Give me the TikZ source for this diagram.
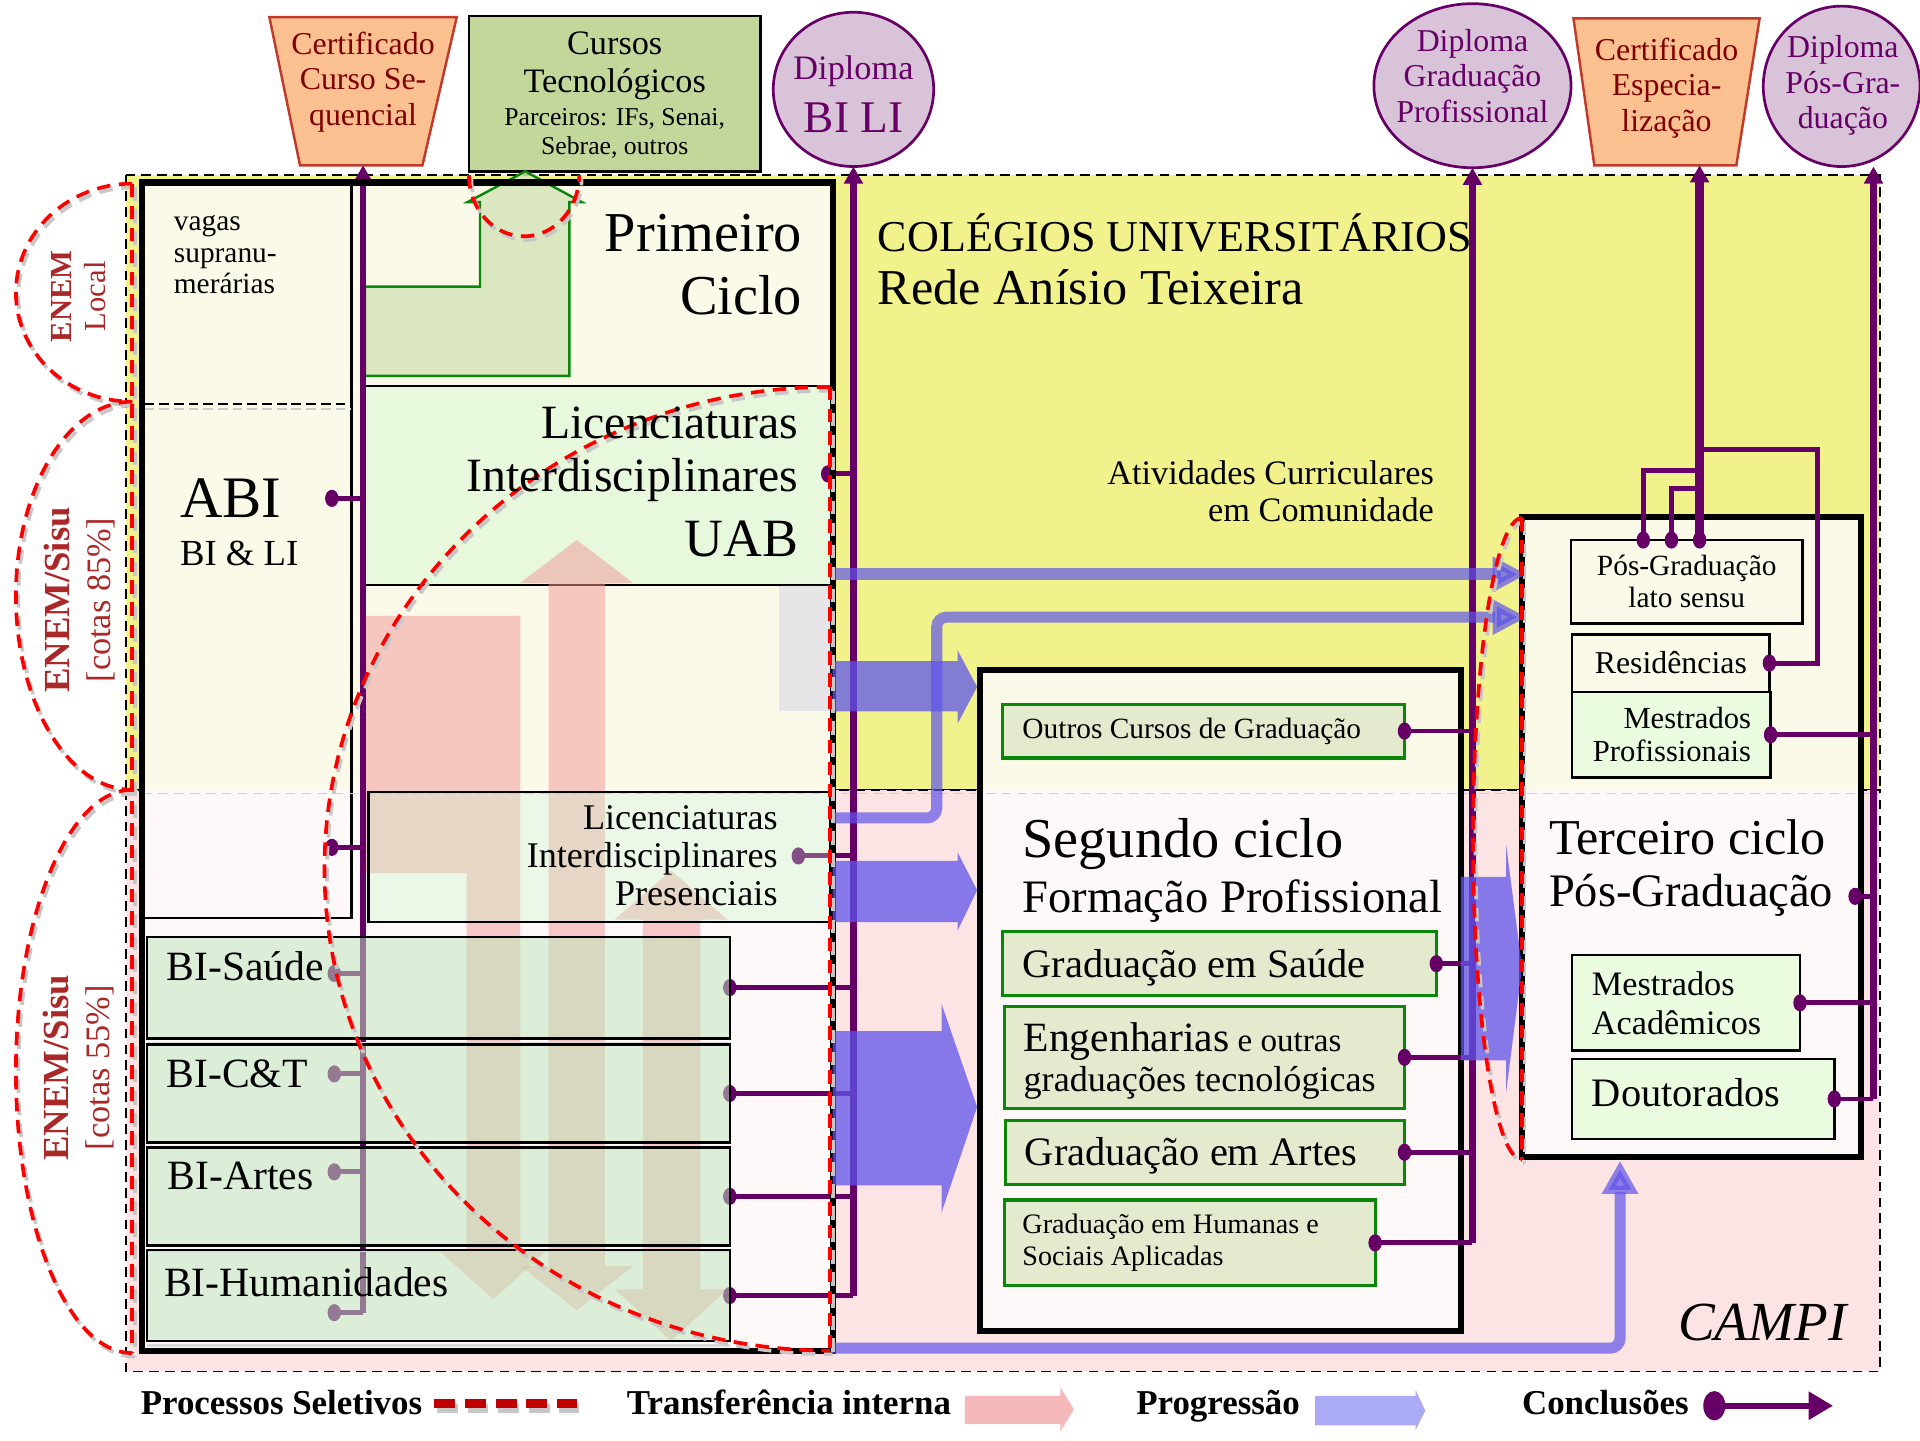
\documentclass[tikz,border=0pt]{standalone}
\usepackage{fontspec}
\setmainfont{Liberation Serif}
\usetikzlibrary{arrows.meta,shapes.geometric}
\newcommand\fsz[2]{\fontsize{#1}{#2}\selectfont}
\definecolor{yel}{RGB}{242,242,140}
\definecolor{pnk}{RGB}{253,228,228}
\definecolor{crm}{RGB}{251,250,232}
\definecolor{wpk}{RGB}{254,249,248}
\definecolor{uabg}{RGB}{232,248,220}
\definecolor{presg}{RGB}{195,246,198}
\definecolor{big}{RGB}{190,230,188}
\definecolor{gfill}{RGB}{228,234,206}
\definecolor{gline}{RGB}{10,135,10}
\definecolor{cursosf}{RGB}{196,215,155}
\definecolor{certf}{RGB}{250,192,144}
\definecolor{certl}{RGB}{192,57,43}
\definecolor{certt}{RGB}{127,0,0}
\definecolor{dipf}{RGB}{217,195,217}
\definecolor{purp}{RGB}{102,0,102}
\definecolor{prog}{RGB}{95,85,235}
\definecolor{trans}{RGB}{240,150,150}
\definecolor{enem}{RGB}{170,40,40}
\definecolor{lgr}{RGB}{234,251,224}
\definecolor{lsel}{RGB}{192,0,0}
\definecolor{lshape}{RGB}{214,228,186}
\definecolor{lgpink}{RGB}{245,185,185}
\definecolor{lgblue}{RGB}{170,170,245}
\begin{document}
\begin{tikzpicture}[x=1pt,y=-1pt,
 tx/.style={inner sep=0pt,outer sep=0pt},
 region/.style={draw=black,line width=1.5pt,dash pattern=on 8pt off 5pt},
 cycbox/.style={draw=black,line width=5pt},
 thinbox/.style={draw=black,line width=1.8pt},
 gbox/.style={draw=gline,fill=gfill,line width=2.5pt,inner xsep=16pt,inner ysep=0pt,align=flush left,outer sep=0pt},
 tbox/.style={draw=black,line width=2pt,inner ysep=0pt,outer sep=0pt},
 bibox/.style={draw=black,line width=2pt,fill=big,fill opacity=0.53},
 dipl/.style={ellipse,draw=purp,line width=2.2pt,fill=dipf,inner sep=0pt,outer sep=0pt},
 cert/.style={draw=certl,line width=2pt,fill=certf},
 ctxt/.style={tx,align=center,text=certt,font=\fsz{26}{29}},
 dtxt/.style={tx,align=center,text=purp,font=\fsz{26}{29}},
 pmain/.style={draw=purp,line width=5.5pt,-{Triangle[width=15pt,length=14pt]}},
 pline/.style={draw=purp,line width=4pt},
 trarrow/.style={fill=trans,fill opacity=0.5},
 pgarrow/.style={fill=prog,fill opacity=0.75},
 pgline/.style={draw=prog,opacity=0.7,line width=10pt},
 sel/.style={draw=red,line width=3pt,dash pattern=on 11pt off 7pt},
 selsh/.style={draw=black!22,line width=3pt,dash pattern=on 11pt off 7pt,shift={(2,3)}},
 enemt/.style={tx,rotate=90,align=center,text=enem},
 legt/.style={tx,anchor=base west,font=\bfseries\fsz{28.5}{30}},
]
\useasboundingbox (0,0) rectangle (1568,1176);
\fill[white] (0,0) rectangle (1568,1176);
% ---------- regions
\path[region,fill=yel] (103,143) rectangle (1535,645);
\path[region,fill=pnk] (103,645) rectangle (1535,1120);
% ---------- top nodes
\path[cert] (220,14) -- (373,14) -- (345,135) -- (245,135) -- cycle;
\node[tx,minimum width=153pt,minimum height=121pt] (certseq) at (296.5,74.5) {};
\node[ctxt] (certseqT) at (296.5,67) {Certificado\\Curso Se-\\quencial};
\node[draw=black,line width=2pt,fill=cursosf,minimum width=238pt,minimum height=127pt,inner sep=0pt,outer sep=0pt] (cursos) at (502,76.5) {};
\node[tx,align=center,font=\fsz{28}{31}] (cursosT1) at (502,54) {Cursos\\Tecnológicos};
\node[tx,align=center,font=\fsz{21}{23}] (cursosT2) at (502,109) {Parceiros: IFs, Senai,\\Sebrae, outros};
\node[dipl,minimum width=131pt,minimum height=126pt] (dbili) at (697,73) {};
\node[dtxt,font=\fsz{28}{30}] (dbiliT1) at (697,58) {Diploma};
\node[dtxt,font=\fsz{37}{40}] (dbiliT2) at (697,96) {BI LI};
\node[dipl,minimum width=161pt,minimum height=134pt] (dgrad) at (1202.5,70) {};
\node[dtxt] (dgradT) at (1202.5,62) {Diploma\\Graduação\\Profissional};
\path[cert] (1285,15) -- (1437,15) -- (1418,135) -- (1302,135) -- cycle;
\node[tx,minimum width=152pt,minimum height=120pt] (certesp) at (1361,75) {};
\node[ctxt] (certespT) at (1361,72) {Certificado\\Especia-\\lização};
\node[dipl,minimum width=128pt,minimum height=131pt] (dpos) at (1504,70.5) {};
\node[dtxt] (dposT) at (1505,70) {Diploma\\Pós-Gra-\\duação};
% ---------- first cycle fills
\fill[crm] (116,149) rectangle (680,645);
\fill[wpk] (116,645) rectangle (680,1103);
\draw[thinbox] (287,151) -- (287,750) -- (118,750);
\draw[black,line width=1.5pt,dash pattern=on 8pt off 4pt] (118,330) -- (287,330);
\draw[black!20,line width=1.5pt,dash pattern=on 8pt off 4pt] (118,334) -- (287,334);
\node[thinbox,fill=uabg,minimum width=384pt,minimum height=163pt,inner sep=0pt,outer sep=0pt] (uab) at (488,396.5) {};
\path[fill=lshape,fill opacity=0.85,draw=gline,line width=2pt] (298,307) -- (465,307) -- (465,165) -- (475,165) -- (429,140) -- (382,165) -- (392,165) -- (392,234) -- (298,234) -- cycle;
% ---------- second / third cycle fills
\fill[crm] (800,547) rectangle (1193,645);
\fill[wpk] (800,645) rectangle (1193,1087);
\fill[crm] (1243,422) rectangle (1520,645);
\fill[wpk] (1243,645) rectangle (1520,945);
\draw[black!18,line width=1.5pt,dash pattern=on 8pt off 5pt] (103,648) -- (1535,648);
% ---------- transfer arrows
\path[trarrow] (298,503) -- (425,503) -- (425,1022) -- (446,1022) -- (403,1061) -- (359,1022) -- (381,1022) -- (381,713) -- (298,713) -- cycle;
\path[trarrow] (471,441) -- (517,476) -- (494,476) -- (494,1034) -- (517,1034) -- (471,1070) -- (425,1034) -- (448,1034) -- (448,476) -- (425,476) -- cycle;
\path[trarrow] (548,711) -- (594,751) -- (572,751) -- (572,1053) -- (594,1053) -- (548,1095) -- (502,1053) -- (525,1053) -- (525,751) -- (502,751) -- cycle;
% ---------- invisible named boxes of first cycle
\node[tx,minimum width=377pt,minimum height=106pt] (pres) at (489.5,700) {};
\node[tx,minimum width=476pt,minimum height=83pt] (bis) at (358,806.5) {};
\node[tx,minimum width=476pt,minimum height=80pt] (bic) at (358,893) {};
\node[tx,minimum width=476pt,minimum height=80pt] (bia) at (358,977) {};
\node[tx,minimum width=476pt,minimum height=74pt] (bih) at (358,1058) {};
% ---------- conclusion lines of first cycle
\coordinate (cABI) at (271,407);
\coordinate (cLP) at (271,692);
\coordinate (cBIs) at (273,795);
\coordinate (cBIc) at (273,877);
\coordinate (cBIa) at (273,957);
\coordinate (cBIh) at (273,1072);
\coordinate (cUAB) at (676,387);
\coordinate (cPres) at (652,699);
\draw[pmain] (cBIh -| certseq.south) -- (certseq.south);
\foreach \c in {cABI,cLP,cBIs,cBIc,cBIa,cBIh}{
  \draw[pline] (\c) -- (\c -| certseq.south);
  \fill[purp] (\c) ellipse[x radius=5.5pt,y radius=7pt];
}
\draw[pmain] (bih.east -| dbili.south) -- (dbili.south);
\foreach \c in {cUAB,cPres,bis.east,bic.east,bia.east,bih.east}{
  \draw[pline] (\c) -- (\c -| dbili.south);
  \fill[purp] (\c) ellipse[x radius=5.5pt,y radius=7pt];
}
% ---------- semi-transparent boxes
\path[draw=black,line width=1.8pt,fill=presg,fill opacity=0.32] (pres.north west) rectangle (pres.south east);
\foreach \b in {bis,bic,bia,bih}{
  \draw[black!15,line width=2.5pt] ([yshift=-4pt]\b.south west) -- ([yshift=-4pt]\b.south east);
  \path[bibox] (\b.north west) rectangle (\b.south east);
}
% ---------- cycle borders
\draw[cycbox] (116,149) rectangle (680,1103);
\draw[cycbox] (800,547) rectangle (1193,1087);
\draw[cycbox] (1243,422) rectangle (1520,945);
% ---------- second cycle boxes
\node[gbox,minimum width=328pt,text width=296pt,minimum height=44pt,font=\fsz{24}{26}] (outros) at (983,597) {Outros Cursos de Graduação};
\node[gbox,minimum width=354pt,text width=322pt,minimum height=52pt,font=\fsz{33}{36}] (saude) at (996,787) {\raisebox{-3pt}[\height][\depth]{Graduação em Saúde}};
\node[gbox,minimum width=327pt,text width=295pt,minimum height=83pt,font=\fsz{34}{33}] (eng) at (983.5,863.5) {\raisebox{-3pt}[\height][\depth]{Engenharias{\fsz{27}{33} e outras}}\\\raisebox{-3pt}[\height][\depth]{\fsz{29.5}{33}graduações tecnológicas}};
\node[gbox,minimum width=326pt,text width=294pt,minimum height=52pt,font=\fsz{33}{36}] (artes) at (984,941) {\raisebox{-3pt}[\height][\depth]{Graduação em Artes}};
\node[gbox,minimum width=303pt,text width=273pt,inner xsep=15pt,minimum height=70pt,font=\fsz{23}{26}] (hum) at (971.5,1015) {Graduação em Humanas e\\Sociais Aplicadas};
% ---------- third cycle boxes
\node[tbox,fill=crm,minimum width=189pt,minimum height=68pt,align=flush center,font=\fsz{24}{26}] (lato) at (1377.5,475) {Pós-Graduação\\lato sensu};
\node[tbox,fill=crm,minimum width=161pt,minimum height=47pt,font=\fsz{26}{28}] (resid) at (1364.5,541.5) {Residências};
\node[tbox,fill=lgr,minimum width=162pt,text width=130pt,inner xsep=16pt,minimum height=70pt,align=flush right,font=\fsz{25}{27}] (mprof) at (1365,600) {Mestrados\\Profissionais};
\node[tbox,fill=lgr,minimum width=186pt,text width=154pt,inner xsep=16pt,minimum height=78pt,align=flush left,font=\fsz{28}{32}] (macad) at (1377,819) {Mestrados\\Acadêmicos};
\node[tbox,fill=lgr,minimum width=214pt,text width=182pt,inner xsep=16pt,minimum height=65pt,align=flush left,font=\fsz{33}{36}] (dout) at (1391,897.5) {\raisebox{5pt}[\height][\depth]{Doutorados}};
% ---------- conclusion lines of second and third cycle
\draw[pmain] (hum.east -| dgrad.south) -- (dgrad.south);
\foreach \c in {outros.east,saude.east,eng.east,artes.east,hum.east}{
  \draw[pline] (\c) -- (\c -| dgrad.south);
  \fill[purp] (\c) ellipse[x radius=5.5pt,y radius=7pt];
}
\coordinate (L1) at (1342,441);
\coordinate (L2) at (1365,441);
\coordinate (L3) at (1388,441);
\draw[pline] (L1) |- (1388,384);
\draw[pline] (L2) |- (1388,399);
\draw[pline] (resid.east) -| (1484,367) -- (1388,367);
\draw[pmain,line width=7pt] (L3) -- (L3 |- certesp.south);
\foreach \c in {L1,L2,L3,resid.east}{
  \fill[purp] (\c) ellipse[x radius=5.5pt,y radius=7pt];
}
\coordinate (cTer) at (1515,732);
\coordinate (V5) at (1530,898);
\draw[pmain] (dout.east -| V5) -- (V5 |- dpos.south);
\foreach \c in {mprof.east,cTer,macad.east,dout.east}{
  \draw[pline] (\c) -- (\c -| V5);
  \fill[purp] (\c) ellipse[x radius=5.5pt,y radius=7pt];
}
% ---------- progression (blue)
\fill[prog,fill opacity=0.12] (636,478) rectangle (680,581);
\path[pgarrow] (680,540) -- (782,540) -- (782,531) -- (798,561) -- (782,591) -- (782,581) -- (680,581) -- cycle;
\path[pgarrow] (680,703) -- (782,703) -- (782,696) -- (798,727) -- (782,760) -- (782,753) -- (680,753) -- cycle;
\path[pgarrow] (680,842) -- (769,842) -- (769,820) -- (798,904) -- (769,990) -- (769,968) -- (680,968) -- cycle;
\path[pgarrow] (1193,716) -- (1230,716) -- (1230,690) -- (1243,790) -- (1230,892) -- (1230,866) -- (1193,866) -- cycle;
\coordinate (pA1) at (680,469);
\coordinate (pA2) at (1247,469);
\coordinate (pB1) at (680,668);
\coordinate (pB2) at (1247,504);
\coordinate (pC1) at (680,1101);
\coordinate (pC2) at (1323,948);
\draw[pgline,-{Triangle[width=27pt,length=28pt]}] (pA1) -- (pA2);
\draw[pgline,line width=9pt,rounded corners=8pt,-{Triangle[width=27pt,length=28pt]}] (pB1) -- (765,668) -- (765,504) -- (pB2);
\draw[pgline,line width=9pt,rounded corners=8pt,-{Triangle[width=28pt,length=27pt]}] (pC1) -| (pC2);
% ---------- selective processes (red dashed)
\foreach \s in {selsh,sel}{
  \draw[\s] (108,150) arc[start angle=90,end angle=270,x radius=95pt,y radius=89pt];
  \draw[\s] (108,328) arc[start angle=90,end angle=270,x radius=95pt,y radius=158.5pt];
  \draw[\s] (108,645) arc[start angle=90,end angle=270,x radius=95pt,y radius=230pt];
  \draw[\s] (108,150) -- (108,1105);
  \draw[\s] (678,316) arc[start angle=90,end angle=270,x radius=413pt,y radius=393.5pt];
  \draw[\s] (678,316) -- (678,1103);
  \draw[\s] (383,143) arc[start angle=180,end angle=360,x radius=45pt,y radius=50pt];
  \draw[\s] (1243,423) arc[start angle=90,end angle=270,x radius=40pt,y radius=262pt];
  \draw[\s] (1243,423) -- (1243,947);
}
% ---------- texts
\node[tx,anchor=east,align=right,font=\fsz{46}{52}] (tPrim) at (655,216) {Primeiro\\Ciclo};
\node[tx,anchor=east,align=right,font=\fsz{39}{43}] (tUAB1) at (652,371) {Licenciaturas\\Interdisciplinares};
\node[tx,anchor=east,font=\fsz{44}{44}] (tUAB2) at (652,440) {UAB};
\node[tx,anchor=west,font=\fsz{36}{36}] (tCol1) at (717,190) {COLÉGIOS UNIVERSITÁRIOS};
\node[tx,anchor=west,font=\fsz{41}{41}] (tCol2) at (717,235) {Rede Anísio Teixeira};
\node[tx,anchor=east,align=right,font=\fsz{28}{30}] (tAtiv) at (1171,401) {Atividades Curriculares\\em Comunidade};
\node[tx,anchor=west,align=left,font=\fsz{24}{26}] (tVagas) at (142,208) {vagas\\supranu-\\merárias};
\node[tx,anchor=west,font=\fsz{48}{48}] (tABI) at (147,407) {ABI};
\node[tx,anchor=west,font=\fsz{30}{30}] (tBILI) at (147,452) {BI \& LI};
\node[tx,anchor=east,align=right,font=\fsz{29.5}{31}] (tPres) at (635,699) {Licenciaturas\\Interdisciplinares\\Presenciais};
\node[tx,anchor=west,font=\fsz{34}{34}] (tBIs) at (136,789) {BI-Saúde};
\node[tx,anchor=west,font=\fsz{34}{34}] (tBIc) at (136,877) {BI-C\&T};
\node[tx,anchor=west,font=\fsz{34}{34}] (tBIa) at (137,960) {BI-Artes};
\node[tx,anchor=west,font=\fsz{34}{34}] (tBIh) at (134,1047) {BI-Humanidades};
\node[tx,anchor=west,font=\fsz{46}{46}] (tSeg1) at (835,689) {Segundo ciclo};
\node[tx,anchor=west,font=\fsz{38}{38}] (tSeg2) at (835,736) {Formação Profissional};
\node[tx,anchor=west,font=\fsz{41}{41}] (tTer1) at (1265,684) {Terceiro ciclo};
\node[tx,anchor=west,font=\fsz{38}{38}] (tTer2) at (1265,731) {Pós-Graduação};
\node[tx,anchor=east,font=\itshape\fsz{45}{45}] (tCampi) at (1508,1080) {CAMPI};
\node[enemt,font=\fsz{25}{28}] (enem1) at (64,242) {\textbf{ENEM}\\Local};
\node[enemt,font=\fsz{28}{34}] (enem2) at (65,490) {{\bfseries\fsz{30}{34}ENEM/Sisu}\\{[cotas 85\%]}};
\node[enemt,font=\fsz{28}{34}] (enem3) at (64,872) {{\bfseries\fsz{30}{34}ENEM/Sisu}\\{[cotas 55\%]}};
% ---------- legend
\node[legt] (lgSel) at (115,1155) {Processos Seletivos};
\draw[black!22,line width=8pt,dash pattern=on 17pt off 8pt] ([xshift=12pt,yshift=-5pt]lgSel.east) -- ++(116,0);
\draw[lsel,line width=8pt,dash pattern=on 17pt off 8pt] ([xshift=10pt,yshift=-1pt]lgSel.east) -- ++(116,0);
\node[legt] (lgTr) at (512,1155) {Transferência interna};
\fill[lgpink] (788,1140) -- (866,1140) -- (866,1133) -- (877,1151) -- (866,1169) -- (866,1163) -- (788,1163) -- cycle;
\node[legt] (lgPg) at (928,1155) {Progressão};
\fill[lgblue] (1074,1140) -- (1156,1140) -- (1156,1135) -- (1164,1152) -- (1156,1168) -- (1156,1164) -- (1074,1164) -- cycle;
\node[legt] (lgCo) at (1243,1155) {Conclusões};
\coordinate (lgCoA) at (1400,1148);
\coordinate (lgCoB) at (1497,1148);
\draw[draw=purp,line width=5pt,-{Triangle[width=22pt,length=20pt]}] (lgCoA) -- (lgCoB);
\fill[purp] (lgCoA) ellipse[x radius=9pt,y radius=12pt];
\end{tikzpicture}
\end{document}
